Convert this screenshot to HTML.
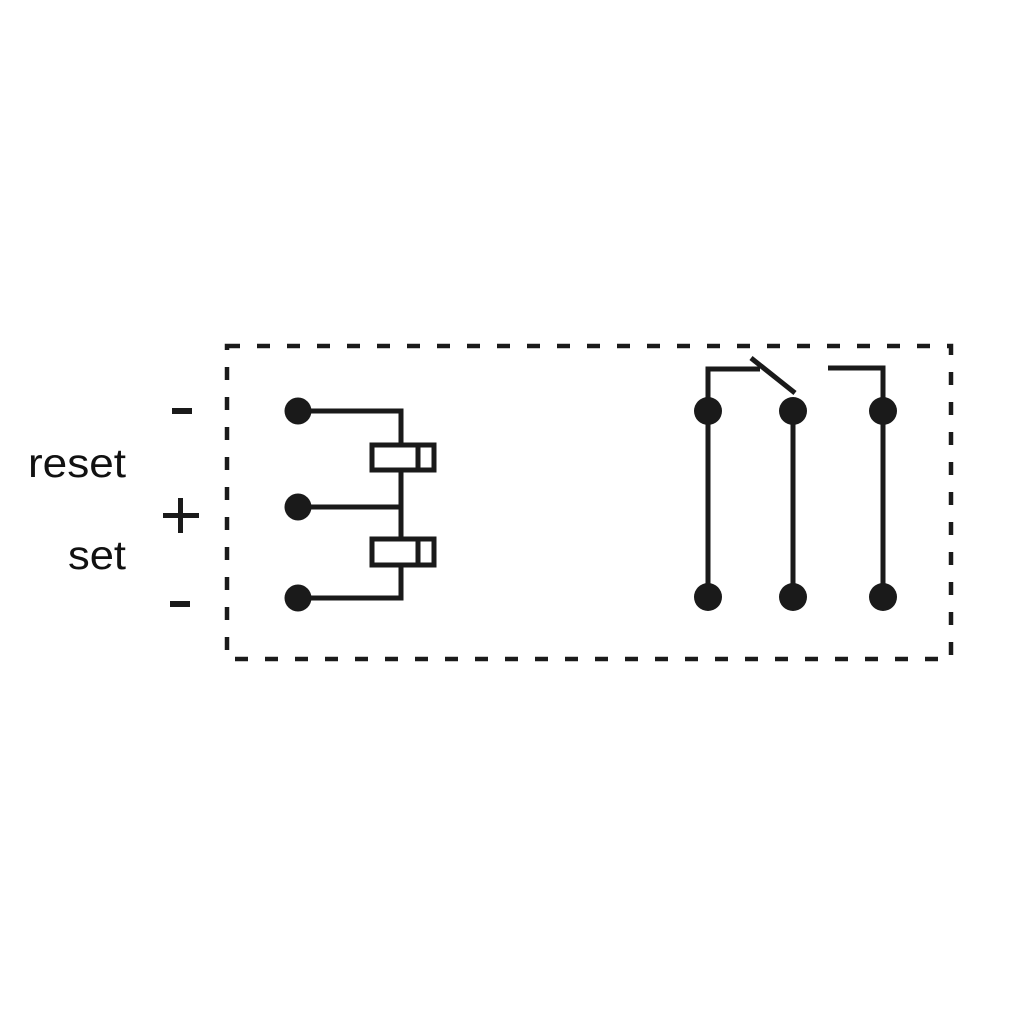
<!DOCTYPE html>
<html><head><meta charset="utf-8"><style>
html,body{margin:0;padding:0;background:#fff;}
svg{display:block;}
</style></head><body>
<svg width="1024" height="1024" viewBox="0 0 1024 1024" xmlns="http://www.w3.org/2000/svg">
<rect width="1024" height="1024" fill="#fff"/>
<g fill="none" stroke="#1a1a1a" stroke-width="4.5">
<rect x="227" y="346" width="724" height="313" stroke-dasharray="13 17"/>
</g>
<g stroke="#1a1a1a" stroke-width="5" fill="none">
<polyline points="298,411 401,411 401,598 298,598"/>
<line x1="298" y1="507" x2="401" y2="507"/>
<rect x="372" y="445" width="62" height="25" fill="#fff"/>
<line x1="418" y1="445" x2="418" y2="470"/>
<rect x="372" y="539" width="62" height="26" fill="#fff"/>
<line x1="418" y1="539" x2="418" y2="565"/>
<polyline points="708,597 708,369 760,369"/>
<line x1="751" y1="358" x2="795" y2="393"/>
<line x1="793" y1="411" x2="793" y2="597"/>
<polyline points="828,368 883,368 883,597"/>
</g>
<g fill="#1a1a1a">
<circle cx="298" cy="411" r="13.5"/>
<circle cx="298" cy="507" r="13.5"/>
<circle cx="298" cy="598" r="13.5"/>
<circle cx="708" cy="411" r="14"/>
<circle cx="793" cy="411" r="14"/>
<circle cx="883" cy="411" r="14"/>
<circle cx="708" cy="597" r="14"/>
<circle cx="793" cy="597" r="14"/>
<circle cx="883" cy="597" r="14"/>
<rect x="172" y="408" width="20" height="6"/>
<rect x="170" y="601" width="20" height="6"/>
<rect x="163" y="513" width="36" height="5"/>
<rect x="178" y="498" width="5" height="35"/>
</g>
<g font-family="Liberation Sans, sans-serif" font-size="41" fill="#111">
<text x="28" y="477" textLength="98" lengthAdjust="spacingAndGlyphs">reset</text>
<text x="68" y="569" textLength="58" lengthAdjust="spacingAndGlyphs">set</text>
</g>
</svg>
</body></html>
